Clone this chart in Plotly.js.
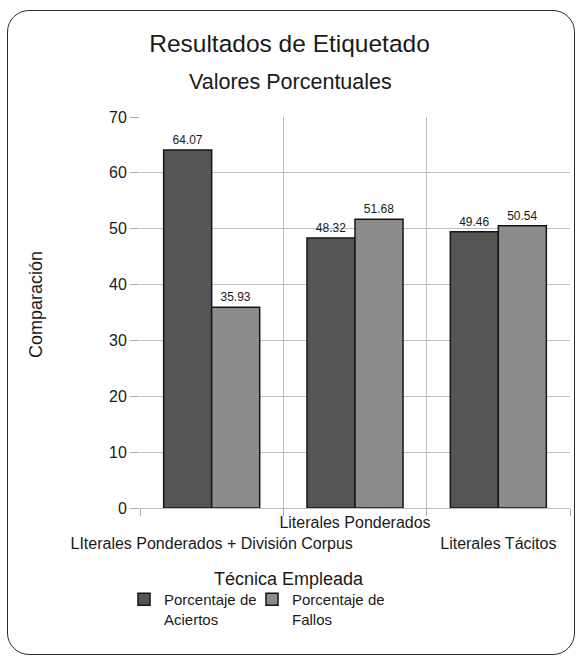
<!DOCTYPE html>
<html>
<head>
<meta charset="utf-8">
<script src="https://cdn.plot.ly/plotly-3.0.1.min.js"></script>
<style>
  html, body { margin: 0; padding: 0; background: #ffffff; }
  #wrap { position: relative; width: 579px; height: 660px; }
  #chart { position: absolute; left: 0; top: 0; width: 579px; height: 660px; }
  #card { position: absolute; left: 7px; top: 10px; width: 566px; height: 643px;
          border: 1.5px solid #2a2a2a; border-radius: 22px; pointer-events: none; }
</style>
</head>
<body>
<div id="wrap">
  <div id="chart"></div>
  <div id="card"></div>
</div>
<script>
// ---- data ----
const categories = ["LIterales Ponderados + División Corpus", "Literales Ponderados", "Literales Tácitos"];
const tickLabels = ["<br>LIterales Ponderados + División Corpus", "Literales Ponderados", "<br>Literales Tácitos"];
const aciertos = [64.07, 48.32, 49.46];
const fallos = [35.93, 51.68, 50.54];
const seriesNames = ["Porcentaje de<br>Aciertos", "Porcentaje de<br>Fallos"];
const yTicks = [0, 10, 20, 30, 40, 50, 60, 70];
const chartTitle = "Resultados de Etiquetado";
const chartSubtitle = "Valores Porcentuales";
const xTitle = "Técnica Empleada";
const yTitle = "Comparación";

const FONT = "Liberation Sans, Arial, sans-serif";
const TXT = "#1a1a1a";

const traces = [
  {
    type: "bar", name: seriesNames[0], x: categories, y: aciertos, legend: "legend",
    marker: { color: "#555555", line: { color: "#161616", width: 1.5 } },
    text: aciertos.map(v => v.toFixed(2)), textposition: "outside",
    textfont: { family: FONT, size: 12, color: TXT }, cliponaxis: false,
    hoverinfo: "x+y"
  },
  {
    type: "bar", name: seriesNames[1], x: categories, y: fallos, legend: "legend2",
    marker: { color: "#8c8c8c", line: { color: "#161616", width: 1.5 } },
    text: fallos.map(v => v.toFixed(2)), textposition: "outside",
    textfont: { family: FONT, size: 12, color: TXT }, cliponaxis: false,
    hoverinfo: "x+y"
  }
];

const L = 140, R = 9, T = 117, B = 152;
const W = 579, H = 660;
const pw = W - L - R, ph = H - T - B;
const px = x => (x - L) / pw;
const py = y => (H - B - y) / ph;

const legendBase = {
  orientation: "h", xanchor: "left", y: py(583), yanchor: "top",
  valign: "top", font: { family: FONT, size: 15, color: TXT },
  bgcolor: "rgba(0,0,0,0)", borderwidth: 0
};

const layout = {
  width: W, height: H,
  margin: { l: L, r: R, t: T, b: B, pad: 0 },
  paper_bgcolor: "#ffffff", plot_bgcolor: "#ffffff",
  font: { family: FONT, size: 15, color: TXT },
  title: { text: chartTitle, x: 0.5, xref: "container", xanchor: "center",
           y: 1 - 43 / H, yref: "container", yanchor: "middle",
           font: { family: FONT, size: 24.5, color: TXT } },
  barmode: "group", bargap: 0.33, bargroupgap: 0,
  showlegend: true,
  legend: Object.assign({}, legendBase, { x: px(124) }),
  legend2: Object.assign({}, legendBase, { x: px(252) }),
  xaxis: {
    type: "category", tickmode: "array", tickvals: categories, ticktext: tickLabels,
    tickangle: 0, tickson: "boundaries", ticks: "outside", ticklen: 7,
    tickcolor: "#a8a8a8", showgrid: true, gridcolor: "#bdbdbd", gridwidth: 1,
    showline: true, linecolor: "#bdbdbd", linewidth: 1,
    tickfont: { family: FONT, size: 16, color: TXT }, automargin: false,
    fixedrange: true
  },
  yaxis: {
    range: [0, 70], tickmode: "array", tickvals: yTicks,
    ticks: "outside", ticklen: 9, tickcolor: "#a8a8a8",
    showgrid: true, gridcolor: "#bdbdbd", gridwidth: 1, zeroline: false,
    showline: false, tickfont: { family: FONT, size: 16, color: TXT },
    automargin: false, fixedrange: true
  },
  annotations: [
    { text: chartSubtitle, xref: "paper", yref: "paper", x: px(290), y: py(82),
      xanchor: "center", yanchor: "middle", showarrow: false,
      font: { family: FONT, size: 21.5, color: TXT } },
    { text: xTitle, xref: "paper", yref: "paper", x: px(289), y: py(579),
      xanchor: "center", yanchor: "middle", showarrow: false,
      font: { family: FONT, size: 18, color: TXT } },
    { text: yTitle, xref: "paper", yref: "paper", x: px(36), y: py(305),
      xanchor: "center", yanchor: "middle", showarrow: false, textangle: -90,
      font: { family: FONT, size: 18, color: TXT } }
  ]
};

Plotly.newPlot("chart", traces, layout, { displayModeBar: false, staticPlot: true });
</script>
</body>
</html>
